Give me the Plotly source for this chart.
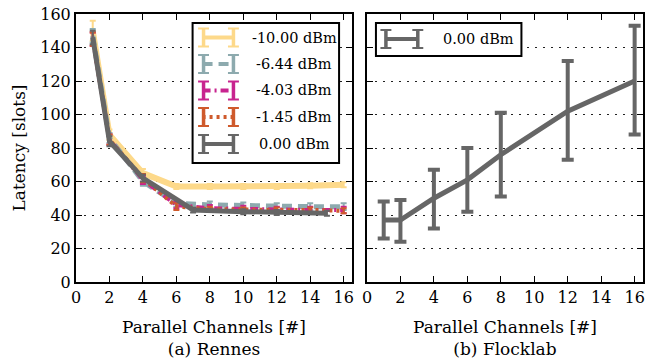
import plotly.graph_objects as go

# ---------------- data ----------------
rennes_x = [1, 2, 4, 6, 8, 10, 12, 14, 16]
rennes_gray_x = [1, 2, 4, 7, 10, 12, 15]

lat_m10 = [150, 88, 65, 57, 57, 57, 57, 57.5, 58]
err_m10 = [6, 3, 2.5, 1.5, 1.5, 1.5, 1.5, 1.5, 1.5]
lat_m644 = [147, 86, 60, 47, 46, 45.5, 45, 45, 45]
err_m644 = [4, 3, 2.5, 2, 2, 2, 2, 2, 2]
lat_m403 = [145, 85, 61, 46, 44, 43.5, 43, 43, 43]
err_m403 = [4, 3, 2.5, 2, 2, 2, 2, 2, 2]
lat_m145 = [145, 85, 62, 45, 43.5, 43, 43, 43, 42.5]
err_m145 = [4, 3, 2.5, 2, 1.5, 1.5, 1.5, 1.5, 1.5]
lat_0_rennes = [146, 84, 62, 43, 42, 41.5, 41]
err_0_rennes = [4, 3, 2, 1.5, 1.5, 1.5, 1.5]

flock_x = [1, 2, 4, 6, 8, 12, 16]
flock_lat = [37, 37, 50, 61, 76, 102, 120]
flock_hi = [48, 49, 67, 80, 101, 132, 153]
flock_lo = [26, 24, 32, 42, 51, 73, 88]

labels = ["-10.00 dBm", "-6.44 dBm", "-4.03 dBm", "-1.45 dBm", "0.00 dBm"]
colors = ["#FDD98A", "#8DAAAE", "#C8248F", "#CF5A2C", "#666666"]
dashes = ["solid", "10px,6px", "8px,4px,2px,4px", "3px,4px", "solid"]
widths = [6, 5, 4, 4, 5]

xticks = [0, 2, 4, 6, 8, 10, 12, 14, 16]
yticks = [0, 20, 40, 60, 80, 100, 120, 140, 160]

FONT = "DejaVu Serif"

fig = go.Figure()

rennes_series = [
    (rennes_x, lat_m10, err_m10),
    (rennes_x, lat_m644, err_m644),
    (rennes_x, lat_m403, err_m403),
    (rennes_x, lat_m145, err_m145),
    (rennes_gray_x, lat_0_rennes, err_0_rennes),
]
for (xs, ys, es), lab, c, d, w in zip(rennes_series, labels, colors, dashes, widths):
    fig.add_trace(go.Scatter(
        x=xs, y=ys, mode="lines", name=lab,
        line=dict(color=c, width=w, dash=d),
        error_y=dict(type="data", array=es, color=c, thickness=2, width=3),
        xaxis="x", yaxis="y", showlegend=False))

fig.add_trace(go.Scatter(
    x=flock_x, y=flock_lat, mode="lines", name="0.00 dBm",
    line=dict(color=colors[4], width=5),
    error_y=dict(type="data", symmetric=False,
                 array=[h - v for h, v in zip(flock_hi, flock_lat)],
                 arrayminus=[v - l for v, l in zip(flock_lat, flock_lo)],
                 color=colors[4], thickness=4, width=6),
    xaxis="x2", yaxis="y2", showlegend=False))

# --------------- layout ---------------
L, R, T, B = 76, 2, 14, 82
W, H = 647, 364
PW, PH = W - L - R, H - T - B


def px(x):
    return (x - L) / PW


def py(y):
    return (H - B - y) / PH


TICK = 16
TITLE = 17

ax_common = dict(
    range=[0, 16.5], tickvals=xticks, ticks="inside", ticklen=6, tickwidth=1,
    tickcolor="black", showline=True, linecolor="black", linewidth=2,
    mirror="ticks", showgrid=False, zeroline=False,
    tickfont=dict(family=FONT, size=TICK, color="black"),
)
ay_common = dict(
    range=[0, 160], tickvals=yticks, ticks="inside", ticklen=6, tickwidth=1,
    tickcolor="black", showline=True, linecolor="black", linewidth=2,
    mirror="ticks", showgrid=True, gridcolor="#222222", gridwidth=1,
    griddash="2px,6px", zeroline=False,
    tickfont=dict(family=FONT, size=TICK, color="black"),
)

split_l = px(353)
split_r = px(368)

fig.update_layout(
    width=W, height=H,
    margin=dict(l=L, r=R, t=T, b=B),
    paper_bgcolor="white", plot_bgcolor="white",
    font=dict(family=FONT, size=TICK, color="black"),
    xaxis=dict(ax_common, domain=[0, split_l], anchor="y",
               title=dict(text="Parallel Channels [#]<br>(a) Rennes",
                          font=dict(family=FONT, size=TITLE), standoff=15)),
    yaxis=dict(ay_common, domain=[0, 1], anchor="x",
               title=dict(text="Latency [slots]", font=dict(family=FONT, size=TITLE),
                          standoff=10)),
    xaxis2=dict(ax_common, domain=[split_r, 1], anchor="y2",
                title=dict(text="Parallel Channels [#]<br>(b) Flocklab",
                           font=dict(family=FONT, size=TITLE), standoff=15)),
    yaxis2=dict(ay_common, domain=[0, 1], anchor="x2", showticklabels=False),
    showlegend=False,
)

# --------------- custom legends (errorbar glyphs) ---------------
shapes = []
annotations = []


def legend_box(x0, y0, x1, y1):
    shapes.append(dict(type="rect", xref="paper", yref="paper",
                       x0=px(x0), x1=px(x1), y0=py(y0), y1=py(y1),
                       line=dict(color="black", width=2), fillcolor="white",
                       layer="above"))


def glyph(x0, x1, yc, color, dash, text, tx):
    shapes.append(dict(type="line", xref="paper", yref="paper",
                       x0=px(x0), x1=px(x1), y0=py(yc), y1=py(yc),
                       line=dict(color=color, width=4, dash=dash), layer="above"))
    for xb in (x0 + 1, x1 - 1):
        shapes.append(dict(type="line", xref="paper", yref="paper",
                           x0=px(xb), x1=px(xb), y0=py(yc - 9), y1=py(yc + 9),
                           line=dict(color=color, width=3.5), layer="above"))
        for yy in (yc - 9, yc + 9):
            shapes.append(dict(type="line", xref="paper", yref="paper",
                               x0=px(xb - 5.5), x1=px(xb + 5.5), y0=py(yy), y1=py(yy),
                               line=dict(color=color, width=2), layer="above"))
    annotations.append(dict(xref="paper", yref="paper", x=px(tx), y=py(yc),
                            text=text, showarrow=False, xanchor="center",
                            yanchor="middle",
                            font=dict(family=FONT, size=14.5, color="black")))


legend_box(193, 23, 340, 163)
row_y = [37.5, 64, 90.5, 117, 144]
for lab, c, d, yc in zip(labels, colors, dashes, row_y):
    glyph(203, 235, yc, c, d, lab, 295)

legend_box(377, 23, 523, 56)
glyph(386, 420, 39, colors[4], "solid", labels[4], 480)

fig.update_layout(shapes=shapes, annotations=annotations)

fig.write_html("out.html", config={"displayModeBar": False},
               post_script="document.body.style.margin='0';document.body.style.overflow='hidden';")
